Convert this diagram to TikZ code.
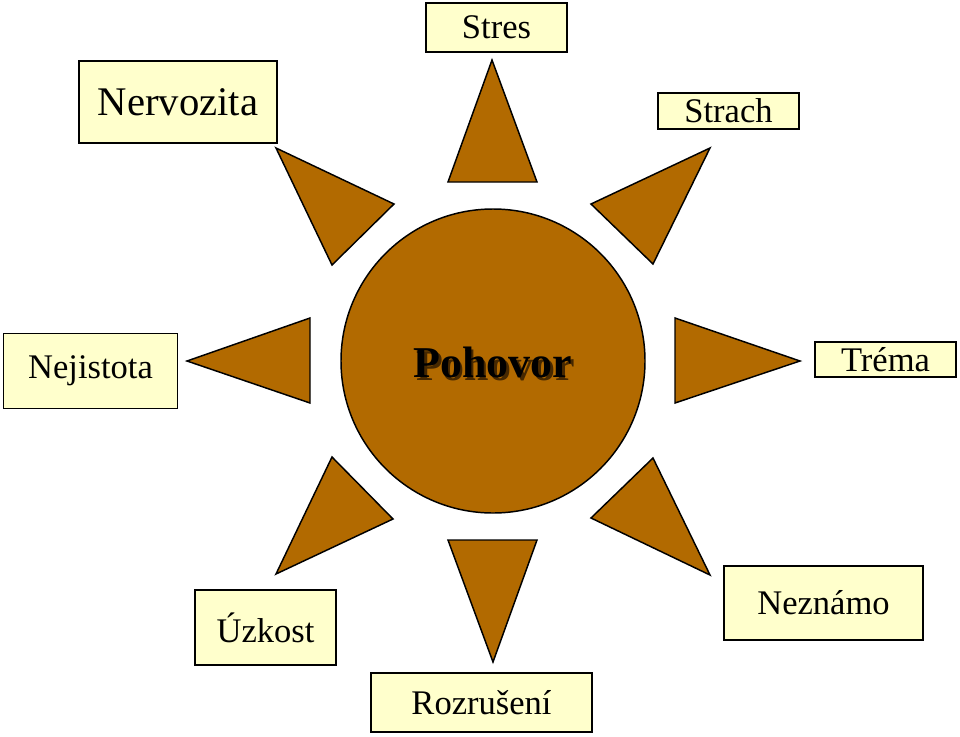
\documentclass[tikz,border=0pt]{standalone}
\usepackage{fontspec}
\setmainfont{Liberation Serif}
\definecolor{sunfill}{RGB}{178,106,0}
\definecolor{boxfill}{RGB}{255,255,204}
\definecolor{shadowc}{RGB}{70,40,0}
\begin{document}
\begin{tikzpicture}[x=0.75pt,y=-0.75pt,
  ray/.style={draw=black,fill=sunfill,line width=1.1pt,line join=miter},
  lbl/.style={draw=black,fill=boxfill,line width=1.1pt,inner sep=0pt,font=\fontsize{25.9}{28}\selectfont},
  bigtxt/.style={font=\fontsize{33}{36}\selectfont\bfseries}]
\useasboundingbox (0,0) rectangle (960,736);
% central circle
\node[ray,circle,minimum size=304*0.75pt,inner sep=0pt] (sun) at (493,361) {};
\node[bigtxt,text=black] (pohovor) at (493,364) {\makebox[0pt][l]{\hspace{1.9pt}\raisebox{-1.9pt}{\textcolor{shadowc}{Pohovor}}}Pohovor};
% rays
\draw[ray] (492,60) -- (448,182) -- (537,182) -- cycle;
\draw[ray] (493,662) -- (448,540) -- (537,540) -- cycle;
\draw[ray] (187,361) -- (310,318) -- (310,403) -- cycle;
\draw[ray] (800,361) -- (675,318) -- (675,403) -- cycle;
\draw[ray] (276,148) -- (394,204) -- (332,265) -- cycle;
\draw[ray] (710,148) -- (591,204) -- (653,264) -- cycle;
\draw[ray] (276,574) -- (332,457) -- (393,519) -- cycle;
\draw[ray] (710,575) -- (653,458) -- (591,518) -- cycle;
% labels
\node[lbl,minimum width=141*0.75pt,minimum height=49*0.75pt] (stres) at (496.5,27.5) {Stres};
\node[lbl,minimum width=198*0.75pt,minimum height=82*0.75pt,font=\fontsize{30.5}{33}\selectfont] (nervozita) at (178,102) {Nervozita};
\node[lbl,minimum width=141*0.75pt,minimum height=36*0.75pt] (strach) at (728.5,111) {Strach};
\node[lbl,minimum width=174*0.75pt,minimum height=75*0.75pt] (nejistota) at (90.5,371) {Nejistota};
\node[lbl,minimum width=141*0.75pt,minimum height=35*0.75pt] (trema) at (885.5,359.5) {Tréma};
\node[lbl,minimum width=141*0.75pt,minimum height=75*0.75pt] (uzkost) at (265.5,627.5) {Úzkost};
\node[lbl,minimum width=199*0.75pt,minimum height=74*0.75pt] (neznamo) at (823.5,603) {Neznámo};
\node[lbl,minimum width=221*0.75pt,minimum height=59*0.75pt] (rozruseni) at (481.5,702.5) {Rozrušení};
\end{tikzpicture}
\end{document}
